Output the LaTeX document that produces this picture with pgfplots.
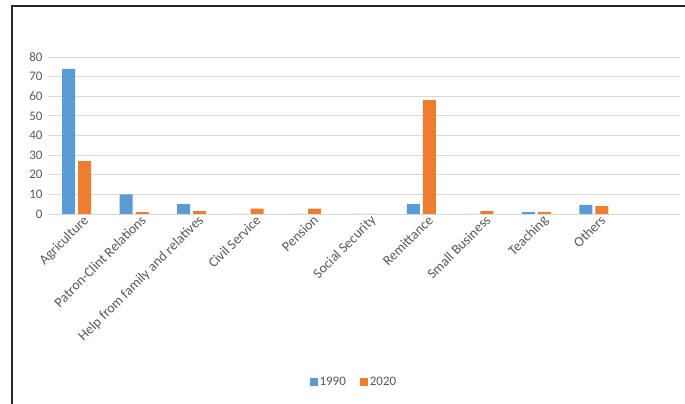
\documentclass[border=0pt]{standalone}
\usepackage{pgfplots}
\pgfplotsset{compat=1.18}
\usepackage{fontspec}
\setmainfont{Carlito}
\definecolor{cblue}{HTML}{5B9BD5}
\definecolor{corange}{HTML}{ED7D31}
\definecolor{cgrid}{HTML}{D9D9D9}
\definecolor{ctext}{HTML}{595959}
\begin{document}
\begin{tikzpicture}
\useasboundingbox (0pt,0pt) rectangle (685pt,404pt);
\draw[line width=1.6pt, black!85] (12pt,0pt) -- (12pt,398pt) -- (685pt,398pt);
\begin{axis}[
  at={(48pt,190pt)}, anchor=south west,
  scale only axis, width=632pt, height=157pt,
  ybar=3pt, bar width=13pt,
  xmin=-0.5, xmax=10.5, ymin=0, ymax=80,
  ytick={0,10,...,80},
  xtick={0,...,9},
  xticklabels={Agriculture,Patron-Clint Relations,Help from family and relatives,Civil Service,Pension,Social Security,Remittance,Small Business,Teaching,Others},
  x tick label style={rotate=45, anchor=north east, inner sep=1pt, xshift=5pt, yshift=-3pt, font=\fontsize{14}{16}\selectfont},
  y tick label style={xshift=-2pt, font=\fontsize{13}{15}\selectfont},
  ticklabel style={text=ctext},
  /pgf/number format/assume math mode=true,
  major tick length=0pt,
  axis line style={draw=none},
  ymajorgrids, grid style={cgrid, line width=0.8pt},
  legend style={at={(0.484,-1.07)}, anchor=center, draw=none, font=\fontsize{13}{15}\selectfont, text=ctext, legend columns=2, /tikz/every even column/.append style={column sep=12pt}},
  legend image code/.code={\fill[#1] (0pt,-4pt) rectangle (8pt,4pt);},
]
\addplot[fill=cblue, draw=none] coordinates {(0,74) (1,10) (2,5) (3,0) (4,0) (5,0) (6,5) (7,0) (8,1) (9,4.6)};
\addplot[fill=corange, draw=none] coordinates {(0,27) (1,1) (2,1.5) (3,2.7) (4,2.7) (5,0) (6,58) (7,1.5) (8,1) (9,4)};
\legend{1990,2020}
\end{axis}
\end{tikzpicture}
\end{document}
